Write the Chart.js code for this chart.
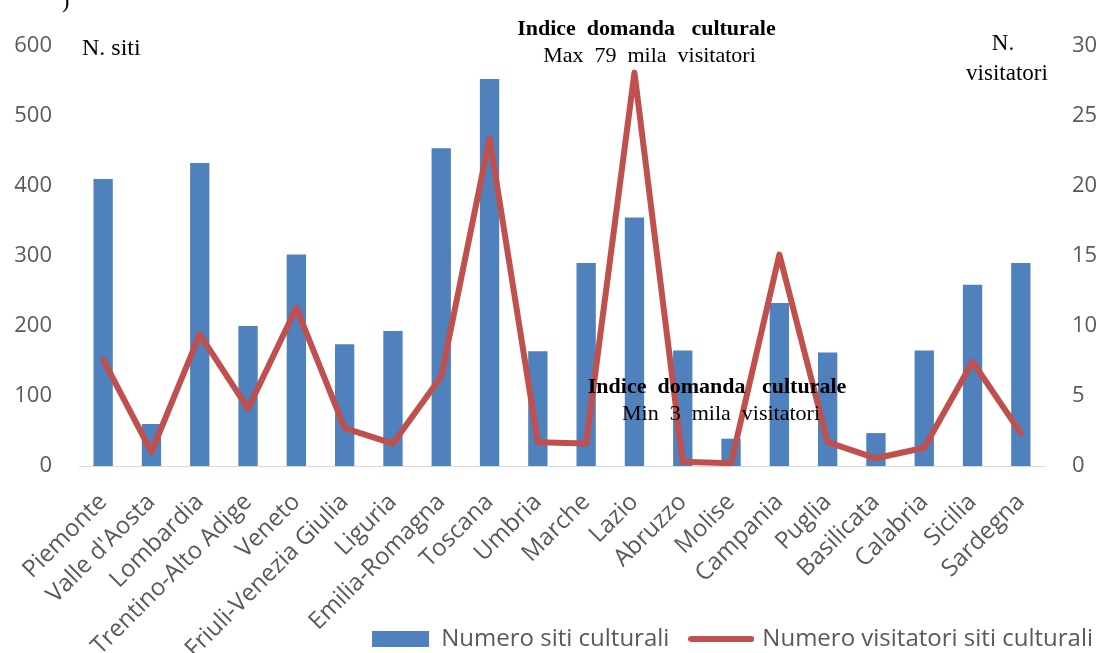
<!DOCTYPE html>
<html>
<head>
<meta charset="utf-8">
<script src="https://cdn.jsdelivr.net/npm/chart.js@4.4.1/dist/chart.umd.min.js"></script>
<style>
  html, body { margin: 0; padding: 0; background: #ffffff; }
  #wrap { width: 1101px; height: 653px; position: relative; }
</style>
</head>
<body>
<div id="wrap"><canvas id="c" width="1101" height="653"></canvas></div>
<script>
// ---- data ----
const categories = ['Piemonte', "Valle d'Aosta", 'Lombardia', 'Trentino-Alto Adige', 'Veneto',
  'Friuli-Venezia Giulia', 'Liguria', 'Emilia-Romagna', 'Toscana', 'Umbria', 'Marche', 'Lazio',
  'Abruzzo', 'Molise', 'Campania', 'Puglia', 'Basilicata', 'Calabria', 'Sicilia', 'Sardegna'];
const sitiValues = [410, 60, 433, 200, 302, 174, 193, 454, 553, 164, 290, 355, 165, 39, 233, 162, 47, 165, 259, 290];
const visitatoriValues = [7.6, 1.0, 9.4, 4.1, 11.3, 2.7, 1.6, 6.4, 23.4, 1.7, 1.6, 28.1, 0.3, 0.2, 15.1, 1.7, 0.55, 1.3, 7.45, 2.35];
const leftTicks = [0, 100, 200, 300, 400, 500, 600];
const rightTicks = [0, 5, 10, 15, 20, 25, 30];
const seriesNames = ['Numero siti culturali', 'Numero visitatori siti culturali'];
const leftTitle = 'N. siti';
const rightTitle = ['N.', 'visitatori'];
const maxNote = ['Indice  domanda   culturale', 'Max  79  mila  visitatori'];
const minNote = ['Indice  domanda   culturale', 'Min  3  mila  visitatori'];

const BLUE = '#4F81BD';
const RED = '#C0504D';
const GREY = '#595959';

function makeSwatch(w, h, color, round) {
  const c = document.createElement('canvas');
  c.width = w; c.height = h;
  const g = c.getContext('2d');
  g.fillStyle = color;
  if (round) {
    g.beginPath();
    g.moveTo(h / 2, 0); g.lineTo(w - h / 2, 0);
    g.arc(w - h / 2, h / 2, h / 2, -Math.PI / 2, Math.PI / 2);
    g.lineTo(h / 2, h);
    g.arc(h / 2, h / 2, h / 2, Math.PI / 2, Math.PI * 1.5);
    g.fill();
  } else {
    g.fillRect(0, 0, w, h);
  }
  return c;
}
const barSwatch = makeSwatch(57, 16, BLUE, false);
const lineSwatch = makeSwatch(66, 6, RED, true);

const textPlugin = {
  id: 'notes',
  afterDraw(chart) {
    const { ctx, chartArea, scales } = chart;
    const x = scales.x, yL = scales.y, yR = scales.y1;
    ctx.save();
    ctx.fillStyle = '#000000';
    ctx.textBaseline = 'alphabetic';
    // top-left cropped glyph
    ctx.textAlign = 'left';
    ctx.font = '22px "Liberation Serif"';
    ctx.fillText(')', 62, 8);
    // axis titles
    ctx.font = '24px "Liberation Serif"';
    ctx.fillText(leftTitle, chartArea.left + 3, yL.getPixelForValue(600) + 9);
    ctx.textAlign = 'center';
    ctx.font = '23px "Liberation Serif"';
    ctx.fillText(rightTitle[0], chartArea.right - 42, yR.getPixelForValue(30) + 4);
    ctx.fillText(rightTitle[1], chartArea.right - 38, yR.getPixelForValue(30) + 34);
    // max note
    const xMax = x.getPixelForValue(11) + 12;
    ctx.font = 'bold 22px "Liberation Serif"';
    ctx.fillText(maxNote[0], xMax, yR.getPixelForValue(30) - 11);
    ctx.font = '22px "Liberation Serif"';
    ctx.fillText(maxNote[1], xMax + 3, yR.getPixelForValue(30) + 16);
    // min note
    const xMin = x.getPixelForValue(13) - 14;
    ctx.font = 'bold 22px "Liberation Serif"';
    ctx.fillText(minNote[0], xMin, yR.getPixelForValue(5.2));
    ctx.font = '22px "Liberation Serif"';
    ctx.fillText(minNote[1], xMin + 4, yR.getPixelForValue(3.3));
    ctx.restore();
  }
};

new Chart(document.getElementById('c'), {
  type: 'bar',
  data: {
    labels: categories,
    datasets: [
      {
        type: 'line',
        label: seriesNames[1],
        data: visitatoriValues,
        yAxisID: 'y1',
        borderColor: RED,
        backgroundColor: RED,
        borderWidth: 6,
        pointRadius: 0,
        tension: 0,
        borderJoinStyle: 'round',
        borderCapStyle: 'round'
      },
      {
        type: 'bar',
        label: seriesNames[0],
        data: sitiValues,
        yAxisID: 'y',
        backgroundColor: BLUE,
        borderWidth: 0,
        categoryPercentage: 1.0,
        barPercentage: 0.4
      }
    ]
  },
  options: {
    responsive: false,
    animation: false,
    devicePixelRatio: 1,
    layout: { padding: { top: 46, left: 0, right: -15, bottom: -8 } },
    plugins: {
      tooltip: { enabled: false },
      title: { display: false },
      legend: {
        display: true,
        position: 'bottom',
        align: 'end',
        labels: {
          usePointStyle: true,
          pointStyleWidth: 58,
          padding: 23,
          color: GREY,
          font: { family: '"Open Sans"', size: 24 },
          generateLabels: () => [
            { text: seriesNames[0], pointStyle: barSwatch, fillStyle: BLUE, strokeStyle: BLUE, lineWidth: 0, datasetIndex: 1, fontColor: GREY },
            { text: seriesNames[1], pointStyle: lineSwatch, fillStyle: RED, strokeStyle: RED, lineWidth: 0, datasetIndex: 0, fontColor: GREY }
          ]
        }
      }
    },
    scales: {
      x: {
        grid: { display: false },
        border: { display: true, color: '#D9D9D9', width: 1 },
        ticks: {
          autoSkip: false, maxRotation: 45, minRotation: 45,
          color: GREY, font: { family: '"Open Sans"', size: 24 }, padding: 14, labelOffset: 0
        },
        afterFit: (s) => { s.height = 138; s._computeLabelArea = () => null; }
      },
      y: {
        position: 'left',
        min: leftTicks[0], max: leftTicks[leftTicks.length - 1],
        grid: { display: false, drawTicks: false },
        border: { display: false },
        ticks: {
          stepSize: leftTicks[1] - leftTicks[0], color: GREY, padding: 27,
          font: { family: '"Open Sans"', size: 22 }
        },
        afterFit: (s) => { s.width = 79; }
      },
      y1: {
        position: 'right',
        min: rightTicks[0], max: rightTicks[rightTicks.length - 1],
        grid: { display: false, drawTicks: false },
        border: { display: false },
        ticks: {
          stepSize: rightTicks[1] - rightTicks[0], color: GREY, padding: 27,
          font: { family: '"Open Sans"', size: 22 }
        },
        afterFit: (s) => { s.width = 71; }
      }
    }
  },
  plugins: [textPlugin]
});
</script>
</body>
</html>
